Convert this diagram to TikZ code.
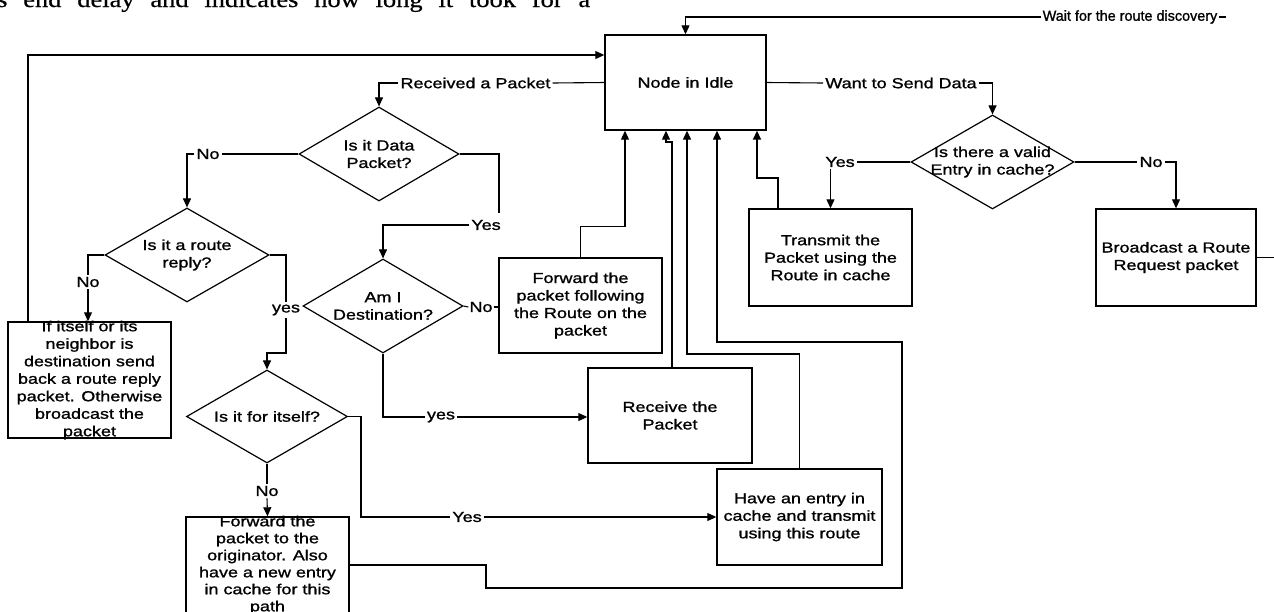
\documentclass[tikz,border=0pt]{standalone}
\usepackage{fontspec}
\usepackage{graphicx}
\setmainfont[FakeStretch=1.24,FakeBold=1.2]{Liberation Sans}
\newfontfamily\pageserif[FakeStretch=1.15,FakeBold=0.6]{Liberation Serif}
\usetikzlibrary{shapes.geometric,arrows.meta}
\begin{document}
\begin{tikzpicture}[x=1pt,y=-1pt,
  every node/.style={font=\fontsize{14.5}{17.5}\selectfont},
  box/.style={draw,line width=1.4pt,inner sep=0pt,align=center},
  dia/.style={draw,diamond,line width=1.2pt,inner sep=0pt},
  txt/.style={align=center,inner sep=0pt},
  lbl/.style={inner sep=2pt},
  ln/.style={line width=1.1pt},
  arr/.style={ln,-{Triangle[length=9pt,width=8pt]}}]
\useasboundingbox (0,0) rectangle (1274,611);
\clip (0,0) rectangle (1274,611);
\fill[white] (0,0) rectangle (1274,611);

% page text cut at top
\node[anchor=base west,inner sep=0pt] (pagetext) at (-3,7)
  {\pageserif\fontsize{23}{23}\selectfont\makebox[593pt][s]{s end delay and indicates how long it took for a}};

% boxes
\node[box,minimum width=161pt,minimum height=95pt] (idle) at (685.5,82.5) {Node in Idle};
\node[box,minimum width=163pt,minimum height=116pt] (b1) at (89.5,380) {};
\node[txt] (b1t) at (b1.center) {If itself or its\\neighbor is\\destination send\\back a route reply\\packet. Otherwise\\broadcast the\\packet};
\node[box,minimum width=163pt,minimum height=96pt] (b2) at (267.5,565) {};
\node[txt,font=\fontsize{14.5}{17}\selectfont] (b2t) at (b2.center) {Forward the\\packet to the\\originator. Also\\have a new entry\\in cache for this\\path};
\node[box,minimum width=163pt,minimum height=95pt] (bfw) at (580.5,305.5) {Forward the\\packet following\\the Route on the\\packet};
\node[box,minimum width=164pt,minimum height=95pt] (brc) at (670,415.5) {Receive the\\Packet};
\node[box,minimum width=165pt,minimum height=96pt] (bhv) at (799.5,517) {Have an entry in\\cache and transmit\\using this route};
\node[box,minimum width=163pt,minimum height=97pt] (btr) at (830.5,257.5) {Transmit the\\Packet using the\\Route in cache};
\node[box,minimum width=160pt,minimum height=97pt] (bbc) at (1176,257.5) {Broadcast a Route\\Request packet};

% diamonds
\node[dia,minimum width=160pt,minimum height=94pt] (d1) at (379,154) {};
\node[txt] (d1t) at (d1.center) {Is it Data\\Packet?};
\node[dia,minimum width=164pt,minimum height=94pt] (d2) at (187,255) {};
\node[txt] (d2t) at (d2.center) {Is it a route\\reply?};
\node[dia,minimum width=160pt,minimum height=94pt] (d3) at (383,306) {};
\node[txt] (d3t) at (d3.center) {Am I\\Destination?};
\node[dia,minimum width=161pt,minimum height=93pt] (d4) at (267,416.5) {};
\node[txt] (d4t) at (d4.center) {Is it for itself?};
\node[dia,minimum width=163pt,minimum height=94pt] (d5) at (992.5,162) {};
\node[txt] (d5t) at (d5.center) {Is there a valid\\Entry in cache?};

% labels
\node[lbl] (rcv) at (475.5,83) {Received a Packet};
\node[lbl] (no1) at (208,154) {No};
\node[lbl] (yes1) at (486,225) {Yes};
\node[lbl] (no2) at (88,282) {No};
\node[lbl] (yes2) at (286,310) {yes};
\node[lbl] (yes4) at (467,517) {Yes};
\node[lbl] (no4) at (267,491) {No};
\node[lbl,inner sep=1pt] (no3) at (481,307) {No};
\node[lbl] (yes3) at (441,417) {yes};
\node[lbl] (want) at (901,83) {Want to Send Data};
\node[lbl] (yes5) at (840,162) {Yes};
\node[lbl] (no5) at (1151,162) {No};
\node[lbl] (wait) at (1130,17) {\scalebox{0.8}[1]{Wait for the route discovery}};

% helper coordinates
\coordinate (y55) at (0,55);
\coordinate (lp) at (28,322);
\coordinate (c1) at (499,213);
\coordinate (c2) at (0,353);
\coordinate (c3) at (361,0);
\coordinate (c4) at (486,588);
\coordinate (c5) at (902,342);
\coordinate (i4) at (717,0);
\coordinate (i1) at (625,0);
\coordinate (j2) at (672,142);
\coordinate (i2) at (666,0);
\coordinate (c6) at (687,354);
\coordinate (c7) at (757,178);
\coordinate (c8) at (778,0);
\coordinate (ex) at (1290,257.5);
\coordinate (wx) at (1226,17);

% connectors
\draw[arr] (lp) |- (idle.west |- y55);
\draw[ln] (idle.west) -- (rcv.east);
\draw[arr] (rcv.west) -| (d1.north);
\draw[ln] (d1.west) -- (no1.east);
\draw[arr] (no1.west) -| (d2.north);
\draw[ln] (d1.east) -| (c1);
\draw[arr] (yes1.west) -| (d3.north);
\draw[ln] (d2.west) -| (no2.north);
\draw[arr] (no2.south) -- (no2.south |- b1.north);
\draw[ln] (d2.east) -| (yes2.north);
\draw[arr] (yes2.south) -- (yes2.south |- c2) -| (d4.north);
\draw[ln] (d4.east) -| (c3 |- yes4) -- (yes4.west);
\draw[arr] (yes4.east) -- (bhv.west);
\draw[ln] (d4.south) -- (no4.north);
\draw[arr] (no4.south) -- (b2.north);
\draw[arr,line width=1.4pt] (b2.east) -| (c4) -| (c5) -| (idle.south -| i4);
\draw[ln] (d3.east) -- (no3.west);
\draw[ln] (no3.east) -- (bfw.west |- no3);
\draw[ln] (d3.south) |- (yes3.west);
\draw[arr] (yes3.east) -- (brc.west |- yes3);
\draw[arr] (bfw.north) -- ++(0,-31) -| (idle.south -| i1);
\draw[arr] (brc.north -| j2) -- (j2) -- (j2 -| i2) -- (idle.south -| i2);
\draw[arr,line width=1.4pt] (bhv.north) |- (c6) -- (idle.south -| c6);
\draw[arr,line width=1.8pt] (btr.north -| c8) |- (c7) -- (idle.south -| c7);
\draw[ln] (idle.east) -- (want.west);
\draw[arr] (want.east) -| (d5.north);
\draw[ln] (d5.west) -- (yes5.east);
\draw[arr] (btr.north |- yes5.south) -- (btr.north);
\draw[ln] (d5.east) -- (no5.west);
\draw[arr] (no5.east) -| (bbc.north);
\draw[ln] (bbc.east) -- (ex);
\draw[ln] (wx) -- (wait.east);
\draw[arr] (wait.west) -| (idle.north);
\end{tikzpicture}
\end{document}
